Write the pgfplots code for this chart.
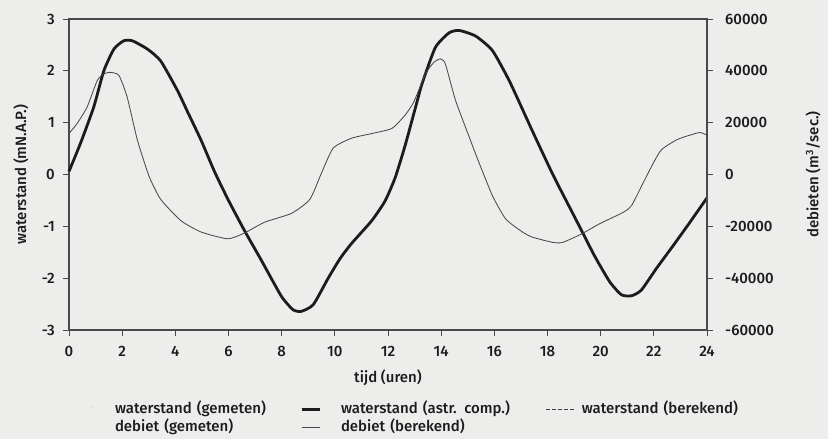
\documentclass[border=0pt]{standalone}
\usepackage{fontspec}
\setmainfont{Fira Sans}[UprightFont=* Medium]
\usepackage{pgfplots}
\pgfplotsset{compat=1.18}
\definecolor{bg}{RGB}{237,238,236}
\definecolor{ink}{RGB}{28,28,28}

\pgfplotstableread{
x y
0.00 0.06
0.43 0.60
0.93 1.30
1.31 2.00
1.69 2.42
2.06 2.58
2.38 2.58
2.95 2.42
3.45 2.19
4.08 1.62
4.46 1.21
4.97 0.66
5.47 0.06
6.00 -0.50
6.60 -1.08
7.23 -1.65
7.99 -2.35
8.43 -2.61
8.74 -2.64
9.19 -2.51
9.75 -2.00
10.20 -1.62
10.63 -1.33
11.39 -0.89
11.89 -0.51
12.27 -0.06
12.65 0.57
13.09 1.40
13.28 1.75
13.78 2.45
14.29 2.73
14.67 2.78
15.30 2.67
15.93 2.39
16.56 1.81
17.19 1.11
17.44 0.83
18.20 0.00
18.96 -0.76
19.27 -1.07
19.77 -1.57
20.34 -2.07
20.78 -2.32
21.16 -2.34
21.53 -2.23
22.10 -1.81
22.73 -1.37
23.36 -0.92
24.00 -0.45
}\waterstand

\pgfplotstableread{
x y
0.00 15800
0.30 19600
0.68 26000
1.06 36200
1.31 38800
1.56 39400
1.88 38200
2.19 29800
2.57 13400
3.01 -600
3.45 -9600
4.21 -17800
4.97 -22200
5.97 -24800
6.60 -22600
7.36 -18400
8.37 -15000
9.06 -9600
9.50 600
9.94 10200
10.63 14000
11.39 15800
12.15 17800
12.65 23000
12.97 28000
13.41 38800
13.72 43200
13.97 44600
14.16 42600
14.54 28600
15.05 14600
15.43 4400
15.93 -8200
16.43 -17200
17.06 -22200
17.44 -24200
18.20 -26200
18.57 -26200
19.27 -23000
19.96 -19000
20.85 -14600
21.16 -12000
21.60 -3200
21.98 4400
22.29 9600
22.86 13400
23.36 15200
23.74 16200
24.00 15200
}\debiet

\begin{document}
\fontsize{15}{18}\selectfont
\begin{tikzpicture}
\fill[bg] (-69pt,-109pt) rectangle (759pt,330pt);
\begin{axis}[
  at={(0pt,0pt)}, anchor=south west,
  scale only axis, width=638pt, height=311pt,
  xmin=0, xmax=24, ymin=-3, ymax=3,
  xtick={0,2,4,6,8,10,12,14,16,18,20,22,24},
  xticklabels={0,2,4,6,8,10,12,14,16,18,20,22,24},
  ytick={-3,-2,-1,0,1,2,3},
  yticklabels={-3,-2,-1,0,1,2,3},
  tick pos=left, tick align=outside,
  major tick length=6pt,
  axis line style={ink!80, line width=1.1pt},
  tick style={ink!80, line width=0.9pt},
  tick label style={font=\fontsize{15}{18}\selectfont, text=ink},
  label style={font=\fontsize{15}{18}\selectfont, text=ink},
  xticklabel style={anchor=north, yshift=-5pt},
  yticklabel style={anchor=east, xshift=-3pt},
  xlabel={tijd (uren)},
  ylabel={waterstand (mN.A.P.)},
  xlabel style={at={(axis description cs:0.5,0)}, anchor=center, yshift=-48pt},
  ylabel style={at={(axis description cs:0,0.5)}, anchor=center, yshift=48pt},
  legend columns=3,
  legend style={at={(axis description cs:0.0298,-0.234)}, anchor=north west,
    draw=none, fill=none, inner sep=0pt, outer sep=0pt,
    font=\fontsize{15}{18}\selectfont, text=ink,
    nodes={inner sep=0pt, text height=10.5pt, text depth=3pt, align=left},
    row sep=4.5pt, column sep=0pt,
    /tikz/column 1/.style={column sep=9pt},
    /tikz/column 2/.style={nodes={text width=185pt}},
    /tikz/column 3/.style={column sep=20pt},
    /tikz/column 4/.style={nodes={text width=205pt}},
    /tikz/column 5/.style={column sep=6pt},
    /tikz/column 6/.style={nodes={text width=175pt}}},
  legend cell align=left,
  clip=false,
]
\addlegendimage{legend image code/.code={\path[draw=none, fill=none] (0pt,0pt) -- (18pt,0pt); \draw[gray!25, fill=none, line width=0.5pt] (3pt,2pt) circle (1.6pt);}}
\addlegendentry{waterstand (gemeten)}
\addlegendimage{legend image code/.code={\draw[ink, line width=3pt] (0pt,0pt) -- (18pt,0pt);}}
\addlegendentry{waterstand (astr. comp.)}
\addlegendimage{legend image code/.code={\draw[ink!85, line width=0.8pt, dash pattern=on 3.5pt off 2.5pt] (0pt,0pt) -- (29pt,0pt);}}
\addlegendentry{waterstand (berekend)}
\addlegendimage{legend image code/.code={\path[draw=none, fill=none] (0pt,0pt) -- (18pt,0pt);}}
\addlegendentry{debiet (gemeten)}
\addlegendimage{legend image code/.code={\draw[ink!80, line width=0.8pt] (0pt,0pt) -- (18pt,0pt);}}
\addlegendentry{debiet (berekend)}
\addplot[ink, line width=2.8pt, smooth, tension=0.35, forget plot] table[x=x, y=y] {\waterstand};
\end{axis}
\begin{axis}[
  at={(0pt,0pt)}, anchor=south west,
  scale only axis, width=638pt, height=311pt,
  xmin=0, xmax=24, ymin=-60000, ymax=60000,
  hide x axis,
  axis y line*=right,
  scaled y ticks=false,
  ytick={-60000,-40000,-20000,0,20000,40000,60000},
  yticklabels={-60000,-40000,-20000,0,20000,40000,60000},
  tick align=outside, major tick length=6pt,
  axis line style={ink!80, line width=1.1pt},
  tick style={ink!80, line width=0.9pt},
  tick label style={font=\fontsize{15}{18}\selectfont, text=ink},
  label style={font=\fontsize{15}{18}\selectfont, text=ink},
  yticklabel style={anchor=west, xshift=7pt},
  ylabel={debieten (m\textsuperscript{3}/sec.)},
  ylabel style={at={(axis description cs:1,0.5)}, anchor=center, yshift=-106pt},
]
\addplot[ink!80, line width=0.85pt, smooth, tension=0.35] table[x=x, y=y] {\debiet};
\end{axis}
\pgfresetboundingbox
\path[use as bounding box] (-69pt,-109pt) rectangle (759pt,330pt);
\end{tikzpicture}
\end{document}
